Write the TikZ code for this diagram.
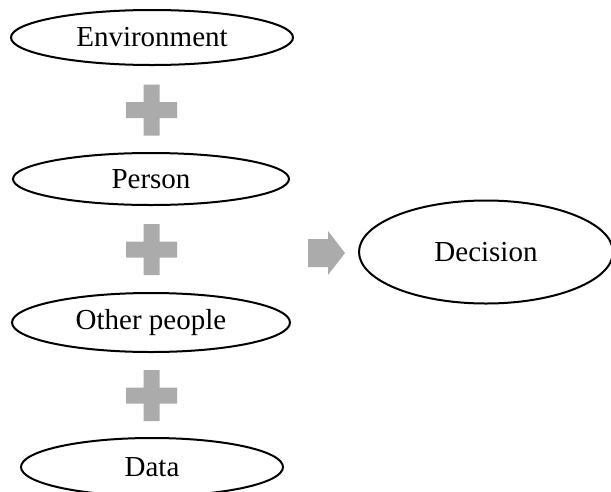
\documentclass[tikz,border=0pt]{standalone}
\usepackage{fontspec}
\setmainfont{Liberation Serif}
\usetikzlibrary{shapes.geometric}

\tikzset{
  factor/.style={ellipse, draw=black, line width=2pt, inner sep=0pt,
    font=\fontsize{29}{33}\selectfont},
  plusfill/.style={fill=black!33},
  pics/plussign/.style={code={
    \fill[plusfill] (-25.5,-8) -- (-8,-8) -- (-8,-25.5) -- (8,-25.5) -- (8,-8)
      -- (25.5,-8) -- (25.5,8) -- (8,8) -- (8,25.5) -- (-8,25.5) -- (-8,8)
      -- (-25.5,8) -- cycle;
  }}
}

\begin{document}
\begin{tikzpicture}[x=1pt, y=-1pt]
  \useasboundingbox (0,0) rectangle (611,491);

  % the four inputs
  \node[factor, minimum width=282pt, minimum height=55pt] (env)    at (152,37.5) {Environment};
  \node[factor, minimum width=276pt, minimum height=52pt] (person) at (151,179)  {Person};
  \node[factor, minimum width=278pt, minimum height=59pt] (others) at (151,322.5){Other people};
  \node[factor, minimum width=262pt, minimum height=58pt] (data)   at (152,467)  {Data};

  % the outcome
  \node[factor, minimum width=254pt, minimum height=103pt] (decision) at (486,252) {Decision};

  % plus signs between the inputs
  \pic at (151.5,110)   {plussign};
  \pic at (151.5,249.5) {plussign};
  \pic at (151.5,395.5) {plussign};

  % block arrow toward the outcome
  \fill[plusfill] (308,239) -- (328,239) -- (328,231) -- (345,253) -- (328,275)
    -- (328,267) -- (308,267) -- cycle;
\end{tikzpicture}
\end{document}
